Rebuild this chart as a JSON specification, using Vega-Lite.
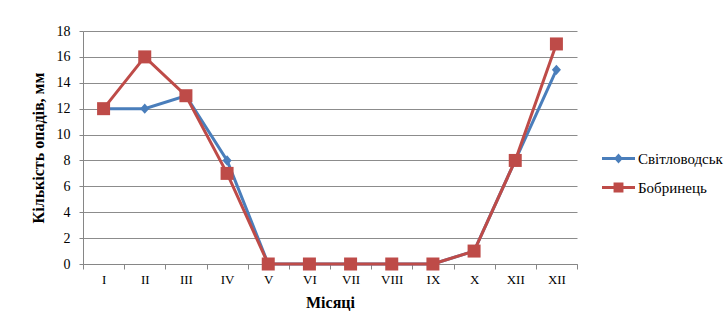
{
  "$schema": "https://vega.github.io/schema/vega-lite/v6.json",
  "width": 494,
  "height": 233,
  "autosize": {"type": "none"},
  "padding": {"left": 83, "top": 31, "right": 151, "bottom": 60},
  "background": "white",
  "config": {
    "view": {"stroke": null},
    "font": "Liberation Serif"
  },
  "data": {
    "values": [
      {"month": 1, "station": "Світловодськ", "mm": 12},
      {"month": 2, "station": "Світловодськ", "mm": 12},
      {"month": 3, "station": "Світловодськ", "mm": 13},
      {"month": 4, "station": "Світловодськ", "mm": 8},
      {"month": 5, "station": "Світловодськ", "mm": 0},
      {"month": 6, "station": "Світловодськ", "mm": 0},
      {"month": 7, "station": "Світловодськ", "mm": 0},
      {"month": 8, "station": "Світловодськ", "mm": 0},
      {"month": 9, "station": "Світловодськ", "mm": 0},
      {"month": 10, "station": "Світловодськ", "mm": 1},
      {"month": 11, "station": "Світловодськ", "mm": 8},
      {"month": 12, "station": "Світловодськ", "mm": 15},
      {"month": 1, "station": "Бобринець", "mm": 12},
      {"month": 2, "station": "Бобринець", "mm": 16},
      {"month": 3, "station": "Бобринець", "mm": 13},
      {"month": 4, "station": "Бобринець", "mm": 7},
      {"month": 5, "station": "Бобринець", "mm": 0},
      {"month": 6, "station": "Бобринець", "mm": 0},
      {"month": 7, "station": "Бобринець", "mm": 0},
      {"month": 8, "station": "Бобринець", "mm": 0},
      {"month": 9, "station": "Бобринець", "mm": 0},
      {"month": 10, "station": "Бобринець", "mm": 1},
      {"month": 11, "station": "Бобринець", "mm": 8},
      {"month": 12, "station": "Бобринець", "mm": 17}
    ]
  },
  "encoding": {
    "x": {
      "field": "month",
      "type": "ordinal",
      "scale": {"type": "band", "paddingInner": 0, "paddingOuter": 0},
      "axis": {
        "title": "Місяці",
        "labelExpr": "['I','II','III','IV','V','VI','VII','VIII','IX','X','XII','XII'][datum.value - 1]",
        "labelAngle": 0,
        "tickBand": "extent",
        "tickSize": 5,
        "domainColor": "#868686",
        "tickColor": "#868686",
        "labelFont": "Liberation Serif",
        "labelFontSize": 13,
        "labelColor": "#000000",
        "labelPadding": 4,
        "titleFont": "Liberation Serif",
        "titleFontSize": 16,
        "titleFontWeight": "bold",
        "titleColor": "#000000",
        "titlePadding": 8,
        "grid": false
      }
    },
    "y": {
      "field": "mm",
      "type": "quantitative",
      "scale": {"domain": [0, 18], "nice": false},
      "axis": {
        "title": "Кількість опадів, мм",
        "values": [0, 2, 4, 6, 8, 10, 12, 14, 16, 18],
        "grid": true,
        "gridColor": "#8c8c8c",
        "gridWidth": 1,
        "domainColor": "#868686",
        "tickColor": "#868686",
        "tickSize": 4,
        "labelFont": "Liberation Serif",
        "labelFontSize": 14,
        "labelColor": "#000000",
        "labelPadding": 9,
        "titleFont": "Liberation Serif",
        "titleFontSize": 16,
        "titleFontWeight": "bold",
        "titleColor": "#000000",
        "titlePadding": 10
      }
    },
    "color": {
      "field": "station",
      "type": "nominal",
      "scale": {"domain": ["Світловодськ", "Бобринець"], "range": ["#4a7ebb", "#be4b48"]},
      "legend": {
        "title": null,
        "orient": "none",
        "legendX": 519,
        "legendY": 111,
        "symbolSize": 1089,
        "symbolType": {"signal": "datum.value === 'Світловодськ' ? 'M-1,-0.09H1V0.09H-1Z M0,-0.3L0.27,0L0,0.3L-0.27,0Z' : 'M-1,-0.09H1V0.09H-1Z M-0.3,-0.3H0.3V0.3H-0.3Z'"},
        "symbolStrokeWidth": 0,
        "labelFont": "Liberation Serif",
        "labelFontSize": 15,
        "labelColor": "#000000",
        "labelOffset": 3,
        "rowPadding": 4
      }
    }
  },
  "layer": [
    {
      "mark": {"type": "line", "strokeWidth": 3}
    },
    {
      "transform": [{"filter": "datum.station === 'Світловодськ'"}],
      "mark": {"type": "point", "filled": true, "opacity": 1, "size": 169, "shape": "M0,-0.8L0.7,0L0,0.8L-0.7,0Z"}
    },
    {
      "transform": [{"filter": "datum.station === 'Бобринець'"}],
      "mark": {"type": "point", "filled": true, "opacity": 1, "size": 169, "shape": "square"}
    }
  ]
}
